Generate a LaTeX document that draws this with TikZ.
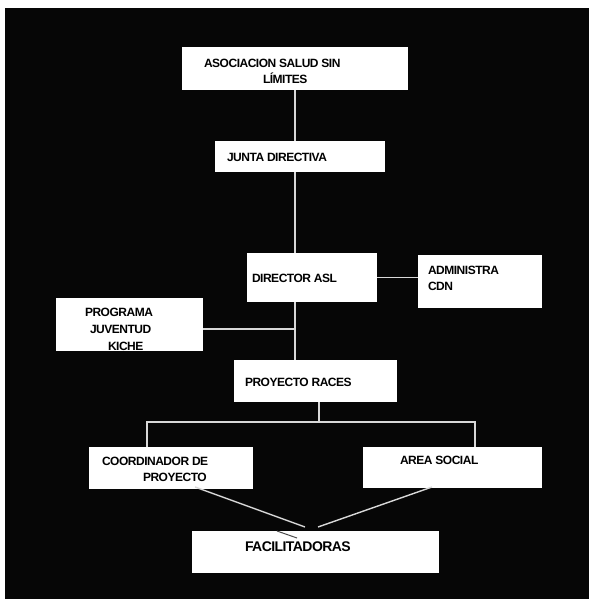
\documentclass[tikz,border=0pt]{standalone}
\usepackage{fontspec}
\setmainfont{Liberation Sans}[BoldFeatures={LetterSpace=-4}]
\definecolor{bgblack}{HTML}{060606}
\definecolor{linegray}{HTML}{D8D8D8}
\begin{document}
\begin{tikzpicture}[x=1pt,y=-1pt,
  box/.style={fill=white,draw=none,inner sep=0pt,outer sep=0pt},
  txt/.style={inner sep=0pt,outer sep=0pt,anchor=west,align=left,text=black,
    font=\fontsize{12}{16}\selectfont\bfseries},
  conn/.style={draw=linegray,line width=1.4pt}]
\useasboundingbox (0,0) rectangle (589,599);
\fill[white] (0,0) rectangle (589,599);
\fill[bgblack] (5,8) rectangle (589,599);

% boxes
\node[box,minimum width=226pt,minimum height=43pt] (asoc) at (295,68.5) {};
\node[box,minimum width=170pt,minimum height=31pt] (junta) at (300,156.5) {};
\node[box,minimum width=130pt,minimum height=49pt] (dir) at (312,277.5) {};
\node[box,minimum width=124pt,minimum height=53pt] (adm) at (480,281.5) {};
\node[box,minimum width=147pt,minimum height=53pt] (prog) at (129.5,324.5) {};
\node[box,minimum width=163pt,minimum height=42pt] (proy) at (315.5,381) {};
\node[box,minimum width=164pt,minimum height=42pt] (coord) at (171,468) {};
\node[box,minimum width=179pt,minimum height=41pt] (area) at (452.5,467.5) {};
\node[box,minimum width=247pt,minimum height=42pt] (fac) at (315.5,552) {};

% texts
\node[txt] (asoct) at (204,71) {ASOCIACION SALUD SIN\\\hspace{59pt}LÍMITES};
\node[txt] (juntat) at (227,157) {JUNTA DIRECTIVA};
\node[txt] (dirt) at (252,278) {DIRECTOR ASL};
\node[txt] (admt) at (428,278) {ADMINISTRA\\CDN};
\node[txt,font=\fontsize{12}{17}\selectfont\bfseries] (progt) at (85,329) {PROGRAMA\\\hspace{5pt}JUVENTUD\\\hspace{23pt}KICHE};
\node[txt] (proyt) at (245,382) {PROYECTO RACES};
\node[txt] (coordt) at (102,469) {COORDINADOR DE\\\hspace{41pt}PROYECTO};
\node[txt] (areat) at (400,460) {AREA SOCIAL};
\node[txt,font=\fontsize{14}{16}\selectfont\bfseries] (fact) at (245,547) {FACILITADORAS};

% connectors
\draw[conn] (asoc.south) -- (asoc.south |- junta.north);
\draw[conn] (asoc.south |- junta.south) -- (asoc.south |- dir.north);
\draw[conn] (dir.east) -- (dir.east -| adm.west);
\draw[conn] (asoc.south |- dir.south) -- (asoc.south |- proy.north);
\draw[conn] (prog.east |- 0,329) -- (asoc.south |- 0,329);
\coordinate (busl) at (147,422);
\coordinate (busr) at (475,422);
\draw[conn] (proy.south -| 319,0) -- (319,422);
\draw[conn] (busl |- coord.north) -- (busl) -- (busr) -- (busr |- area.north);
\coordinate (cl) at (195,487);
\coordinate (cr) at (432,487);
\coordinate (fl) at (305,527);
\coordinate (fr) at (318,527);
\draw[conn] (cl) -- (fl);
\draw[conn] (cr) -- (fr);
\draw[draw=black!70,line width=1pt] (277,531) -- (297,538);
\end{tikzpicture}
\end{document}
